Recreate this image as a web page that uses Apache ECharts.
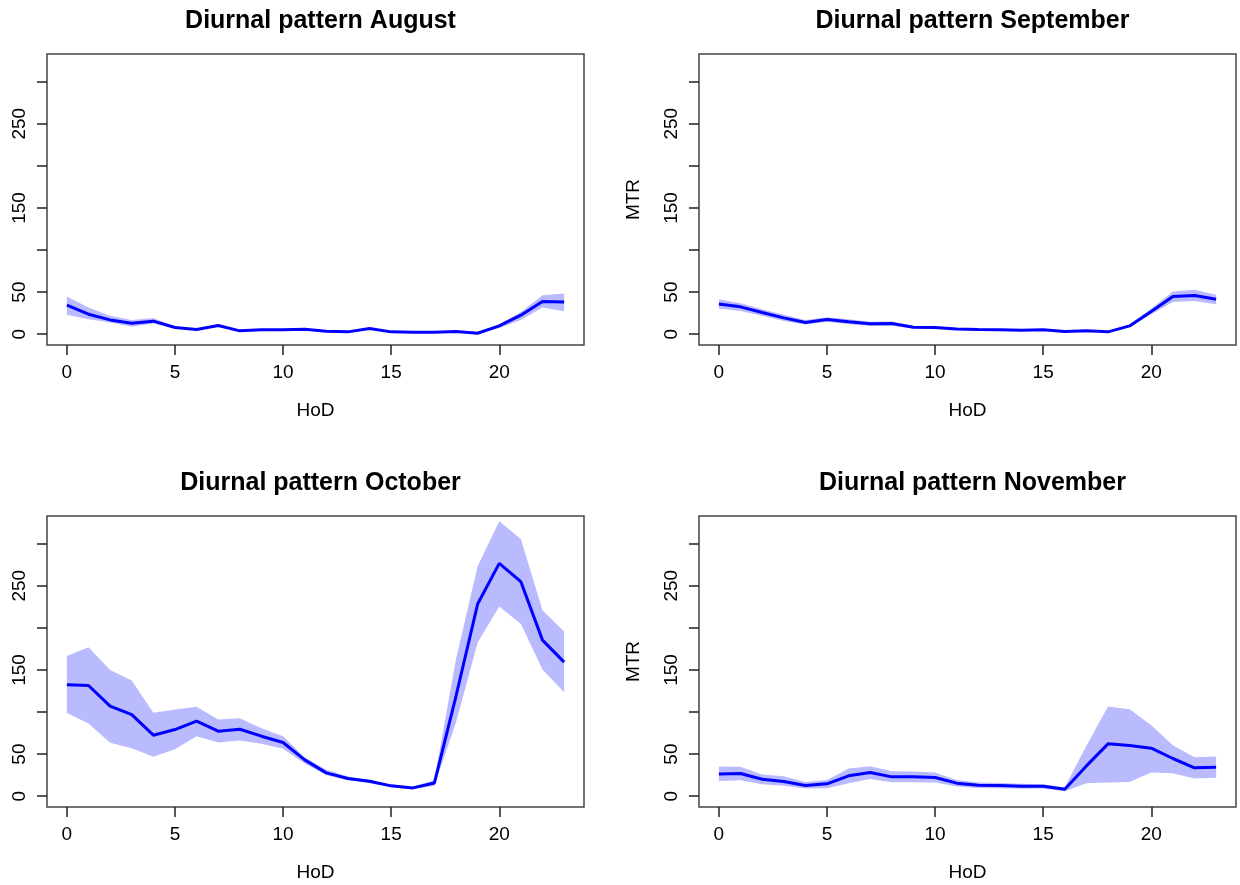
<!DOCTYPE html>
<html>
<head>
<meta charset="utf-8">
<title>Diurnal pattern</title>
<script src="https://cdn.jsdelivr.net/npm/echarts@6/dist/echarts.min.js"></script>
<style>
  html, body { margin: 0; padding: 0; background: #ffffff; }
  #chart { width: 1240px; height: 885px; }
</style>
</head>
<body>
<div id="chart"></div>
<script>
// hour of day
const hours = [0, 1, 2, 3, 4, 5, 6, 7, 8, 9, 10, 11, 12, 13, 14, 15, 16, 17, 18, 19, 20, 21, 22, 23];

// tick positions / labels (R drops 100, 200, 300 labels for overlap)
const xTicks = [0, 5, 10, 15, 20];
const yTicks = [0, 50, 100, 150, 200, 250, 300];
const yLabels = [0, 50, 150, 250];

const months = ['August', 'September', 'October', 'November'];

// mean MTR and confidence band per hour
const augMean = [34.5, 23.8, 17, 13, 15.5, 8, 5.5, 10.3, 4, 5.2, 5.2, 6, 3.6, 2.8, 6.7, 2.8, 2.4, 2.4, 3.2, 1.2, 9.9, 22.6, 38.8, 38.4];
const augLow  = [23, 17.8, 13.9, 9, 12.7, 6.7, 4.5, 8.8, 3, 4.2, 4.2, 5, 2.8, 2, 5.7, 2, 1.6, 1.6, 2.4, 0.5, 7.5, 17, 31.7, 27.3];
const augHigh = [44.8, 31.7, 21.8, 17, 19.4, 9.3, 6.5, 11.8, 5, 6.2, 6.2, 7, 4.4, 3.6, 7.7, 3.6, 3.2, 3.2, 4, 1.9, 11.9, 26.5, 46.4, 48.3];

const sepMean = [36, 32.5, 25.8, 19.4, 13.9, 17.4, 14.7, 12.3, 12.7, 8.3, 7.9, 6.3, 5.5, 5.2, 4.8, 5.2, 3.2, 4, 2.8, 9.9, 27, 44.8, 46, 41.6];
const sepLow  = [30.5, 27.7, 21.8, 15.8, 11.5, 14.7, 11.7, 9.8, 10.2, 6.8, 6.6, 5.2, 4.5, 4.2, 3.8, 4.2, 2.4, 3.2, 2, 8.7, 23.8, 38.4, 39.6, 35.7];
const sepHigh = [41.6, 36.8, 29.7, 23, 17, 20.2, 17.7, 14.8, 15.2, 9.8, 9.2, 7.4, 6.5, 6.2, 5.8, 6.2, 4, 4.8, 3.6, 11.5, 30.5, 50.7, 52.7, 46.8];

const octMean = [132.3, 131.5, 107, 97, 72.5, 79.2, 89.1, 77.3, 79.6, 71.3, 63.8, 43.2, 27.7, 21, 17.8, 12.3, 9.9, 15.8, 119, 228.2, 276.5, 254.8, 185.4, 159.3];
const octLow  = [98.7, 86.4, 63.4, 57, 46.8, 55.9, 71.3, 63.8, 66.2, 62.2, 56.3, 38.8, 25, 19, 15.5, 10.7, 8.3, 12.3, 87.6, 182.6, 225.4, 204.4, 150.6, 123.6];
const octHigh = [166.4, 177, 150, 137.5, 99, 103, 106.2, 91.1, 92.7, 80.8, 71.3, 46.4, 31.3, 23.4, 19.4, 13.5, 11, 19.4, 163, 273, 326.5, 305.5, 221, 195.7];

const novMean = [26.5, 27, 20.2, 17.4, 12.7, 14.7, 24.2, 28.1, 23, 23, 22.2, 15.5, 13.1, 12.7, 11.9, 11.9, 8.3, 36, 62.2, 60.2, 57, 44.8, 33.7, 34.5];
const novLow  = [18.2, 19, 14.3, 12.3, 9.1, 9.5, 15.5, 20.6, 16.6, 16.6, 16.2, 11.5, 9.9, 9.5, 8.9, 9.1, 5.9, 15.5, 16.2, 17, 28.1, 27.3, 21, 21.8];
const novHigh = [35.3, 34.9, 25.8, 23.8, 17, 19.4, 32.9, 35.7, 29.7, 29.3, 28.1, 19.4, 16.2, 15.8, 14.9, 14.3, 10.7, 60, 106.6, 103.4, 84.4, 60.6, 46.4, 47.1];

const meanSets = [augMean, sepMean, octMean, novMean];
const lowSets = [augLow, sepLow, octLow, novLow];
const highSets = [augHigh, sepHigh, octHigh, novHigh];

const FONT = '"Liberation Sans", Arial, Helvetica, sans-serif';
const INK = '#222';

// panel boxes (left, top) in px, 2x2 layout
const boxes = [
  { left: 47, top: 54 },
  { left: 699, top: 54 },
  { left: 47, top: 516 },
  { left: 699, top: 516 }
];
const boxW = 537, boxH = 291;

const chart = echarts.init(document.getElementById('chart'), null, { renderer: 'canvas' });

const grid = [], xAxis = [], yAxis = [], series = [], title = [];

// band polygon: lower edge left->right, upper edge right->left
function bandRenderer(data) {
  return function (params, api) {
    if (params.dataIndex !== 0) return null;
    const pts = [];
    data.forEach(d => pts.push(api.coord([d[0], d[1]])));
    for (let k = data.length - 1; k >= 0; k--) pts.push(api.coord([data[k][0], data[k][2]]));
    return {
      type: 'polygon',
      shape: { points: pts },
      style: { fill: 'rgba(0, 0, 255, 0.27)', stroke: null }
    };
  };
}

months.forEach((m, i) => {
  const b = boxes[i];
  const showYName = (i % 2 === 1);

  title.push({
    text: 'Diurnal pattern ' + m,
    left: b.left + boxW / 2,
    top: b.top - 50,
    textAlign: 'center',
    textStyle: { fontFamily: FONT, fontSize: 25, fontWeight: 'bold', color: '#000' }
  });

  grid.push({
    left: b.left, top: b.top, width: boxW, height: boxH,
    show: true,
    borderColor: '#444',
    borderWidth: 1.5,
    backgroundColor: 'transparent'
  });

  xAxis.push({
    type: 'value',
    gridIndex: i,
    min: -0.92,
    max: 23.92,
    name: 'HoD',
    nameLocation: 'middle',
    nameGap: 56,
    nameTextStyle: { fontFamily: FONT, fontSize: 19, color: '#000' },
    axisLine: { show: false, onZero: false },
    splitLine: { show: false },
    axisTick: {
      show: true, inside: false, length: 10,
      customValues: xTicks,
      lineStyle: { color: INK, width: 1.5 }
    },
    axisLabel: {
      customValues: xTicks,
      margin: 18,
      fontFamily: FONT, fontSize: 19, color: '#000'
    }
  });

  yAxis.push({
    type: 'value',
    gridIndex: i,
    min: -12.8,
    max: 332.8,
    name: showYName ? 'MTR' : '',
    nameLocation: 'middle',
    nameGap: 56,
    nameTextStyle: { fontFamily: FONT, fontSize: 19, color: '#000' },
    axisLine: { show: false, onZero: false },
    splitLine: { show: false },
    axisTick: {
      show: true, inside: false, length: 10,
      customValues: yTicks,
      lineStyle: { color: INK, width: 1.5 }
    },
    axisLabel: {
      customValues: yLabels,
      rotate: 90,
      margin: 18,
      fontFamily: FONT, fontSize: 19, color: '#000'
    }
  });

  const lows = lowSets[i], highs = highSets[i], means = meanSets[i];
  const bandData = hours.map((h, k) => [h, lows[k], highs[k]]);

  series.push({
    type: 'custom',
    xAxisIndex: i, yAxisIndex: i,
    silent: true,
    clip: true,
    encode: { x: 0, y: [1, 2] },
    renderItem: bandRenderer(bandData),
    data: bandData
  });
  series.push({
    type: 'line',
    xAxisIndex: i, yAxisIndex: i,
    symbol: 'none',
    lineStyle: { color: '#0000ff', width: 3 },
    z: 5,
    data: hours.map((h, k) => [h, means[k]])
  });
});

chart.setOption({
  animation: false,
  backgroundColor: '#ffffff',
  title: title,
  grid: grid,
  xAxis: xAxis,
  yAxis: yAxis,
  series: series
});
</script>
</body>
</html>
